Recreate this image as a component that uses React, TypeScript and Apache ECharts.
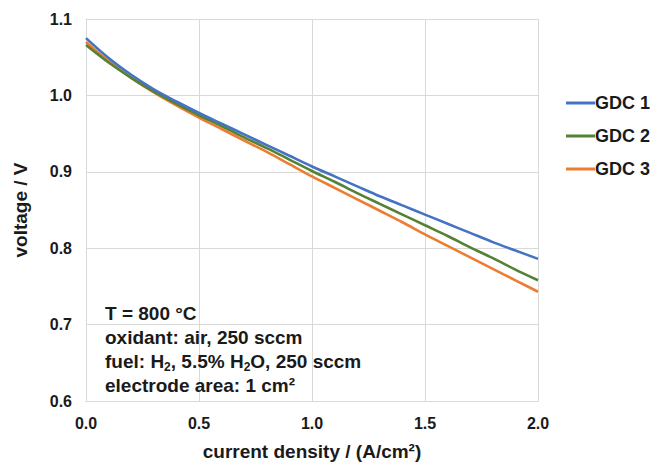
import React, { useEffect, useRef } from "react";
import * as echarts from "echarts";

const currentDensity = [0, 0.1, 0.2, 0.3, 0.4, 0.5, 0.6, 0.7, 0.8, 0.9, 1.0, 1.1, 1.2, 1.3, 1.4, 1.5, 1.6, 1.7, 1.8, 1.9, 2.0];
const gdc1 = [1.075, 1.049, 1.027, 1.008, 0.992, 0.977, 0.963, 0.949, 0.935, 0.921, 0.907, 0.894, 0.881, 0.868, 0.856, 0.844, 0.832, 0.820, 0.808, 0.797, 0.786];
const gdc2 = [1.066, 1.043, 1.023, 1.005, 0.989, 0.974, 0.960, 0.945, 0.931, 0.916, 0.901, 0.887, 0.872, 0.858, 0.844, 0.830, 0.816, 0.801, 0.787, 0.772, 0.758];
const gdc3 = [1.070, 1.045, 1.023, 1.004, 0.987, 0.971, 0.956, 0.941, 0.926, 0.910, 0.894, 0.879, 0.864, 0.849, 0.834, 0.818, 0.803, 0.788, 0.773, 0.758, 0.743];
const seriesNames = ["GDC 1", "GDC 2", "GDC 3"];
const seriesColors = ["#4472C4", "#548235", "#ED7D31"];
const annotationLines = [
  "T = 800 °C",
  "oxidant: air, 250 sccm",
  "fuel: H{sub|2}, 5.5% H{sub|2}O, 250 sccm",
  "electrode area: 1 cm²",
];

const FONT = "'Liberation Sans', Arial, sans-serif";
const TXT = "#1a1a1a";

export default function App() {
  const ref = useRef<HTMLDivElement>(null);
  useEffect(() => {
    if (!ref.current) return;
    const chart = echarts.init(ref.current, null, { renderer: "svg" });
    const all = [gdc1, gdc2, gdc3];
    chart.setOption({
      animation: false,
      backgroundColor: "#ffffff",
      grid: { left: 86, right: 114, top: 19, bottom: 65, containLabel: false },
      xAxis: {
        type: "value",
        min: 0,
        max: 2,
        interval: 0.5,
        name: "current density / (A/cm²)",
        nameLocation: "middle",
        nameGap: 41,
        nameTextStyle: { fontFamily: FONT, fontSize: 19, fontWeight: "bold", color: TXT },
        axisLine: { show: true, lineStyle: { color: "#d9d9d9", width: 1 } },
        axisTick: { show: false },
        axisLabel: {
          margin: 14,
          fontFamily: FONT,
          fontSize: 16,
          fontWeight: "bold",
          color: TXT,
          formatter: (v: number) => v.toFixed(1),
        },
        splitLine: { show: true, lineStyle: { color: "#d9d9d9", width: 1 } },
      },
      yAxis: {
        type: "value",
        min: 0.6,
        max: 1.1,
        interval: 0.1,
        name: "voltage / V",
        nameLocation: "middle",
        nameGap: 56,
        nameTextStyle: { fontFamily: FONT, fontSize: 19, fontWeight: "bold", color: TXT },
        axisLine: { show: true, lineStyle: { color: "#d9d9d9", width: 1 } },
        axisTick: { show: false },
        axisLabel: {
          margin: 14,
          fontFamily: FONT,
          fontSize: 16,
          fontWeight: "bold",
          color: TXT,
          formatter: (v: number) => v.toFixed(1),
        },
        splitLine: { show: true, lineStyle: { color: "#d9d9d9", width: 1 } },
      },
      legend: {
        orient: "vertical",
        left: 561,
        top: 89,
        itemWidth: 29,
        itemHeight: 18,
        itemGap: 15,
        selectedMode: false,
        textStyle: { fontFamily: FONT, fontSize: 18, fontWeight: "bold", color: TXT, padding: [0, 0, 0, -5] },
        data: seriesNames.map((n, i) => ({ name: n, icon: "path://M0,7 L29,7 L29,10 L0,10 Z", itemStyle: { color: seriesColors[i] } })),
      },
      series: all.map((vals, i) => ({
        name: seriesNames[i],
        type: "line",
        symbol: "none",
        smooth: 0.3,
        data: currentDensity.map((x, j) => [x, vals[j]]),
        lineStyle: { color: seriesColors[i], width: 2.6 },
        itemStyle: { color: seriesColors[i] },
        z: 3 - i,
      })),
      graphic: [
        {
          type: "text",
          left: 105,
          top: 301,
          z: 10,
          style: {
            text: annotationLines.join("\n"),
            fontFamily: FONT,
            fontSize: 19,
            fontWeight: "bold",
            fill: TXT,
            lineHeight: 24,
            rich: {
              sub: {
                fontFamily: FONT,
                fontSize: 12,
                fontWeight: "bold",
                fill: TXT,
                verticalAlign: "bottom",
                lineHeight: 24,
              },
            },
          },
        },
      ],
    });
    return () => chart.dispose();
  }, []);
  return <div ref={ref} style={{ position: "fixed", left: 0, top: 0, width: 652, height: 466 }} />;
}
